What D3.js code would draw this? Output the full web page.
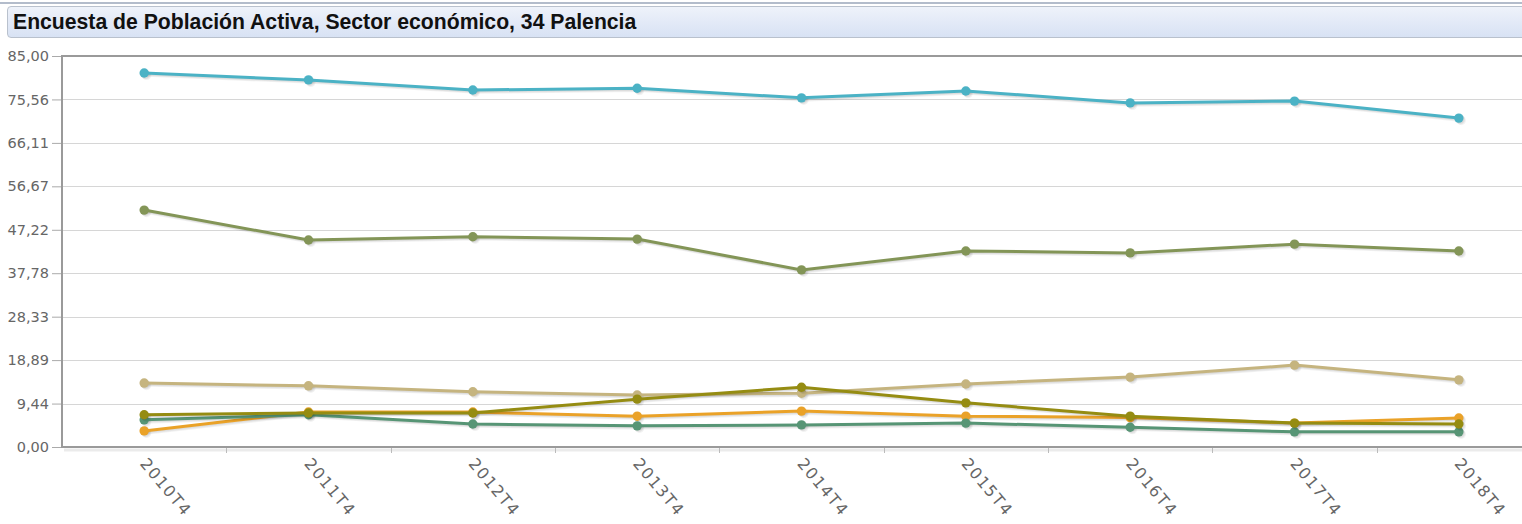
<!DOCTYPE html>
<html>
<head>
<meta charset="utf-8">
<script src="https://cdn.jsdelivr.net/npm/d3@7"></script>
<style>
  body { margin: 0; background: #fff; overflow: hidden; }
  #topline { position: absolute; left: 0; top: 2px; width: 1522px; height: 2px; background: #b3bccb; }
  #title {
    position: absolute; left: 7px; top: 6px; width: 1530px; height: 32px;
    border: 1px solid #b9c1cd; border-radius: 4px;
    background: linear-gradient(#eef2fa, #d8e2f4);
    font-family: "Liberation Sans", Arial, sans-serif; font-weight: bold; font-size: 21.2px;
    line-height: 30px; padding-left: 5px; color: #111; box-sizing: border-box;
  }
  svg { position: absolute; left: 0; top: 0; }
</style>
</head>
<body>
<div id="topline"></div>
<div id="title">Encuesta de Población Activa, Sector económico, 34 Palencia</div>
<svg id="chart" width="1522" height="524"></svg>
<script>
// categories and values (percent)
const categories = ['2010T4', '2011T4', '2012T4', '2013T4', '2014T4', '2015T4', '2016T4', '2017T4', '2018T4'];
const yTicks = [0, 9.44, 18.89, 28.33, 37.78, 47.22, 56.67, 66.11, 75.56, 85.00];

const serie1 = [81.3, 79.8, 77.6, 78.0, 75.9, 77.4, 74.8, 75.2, 71.5];
const serie2 = [3.5, 7.6, 7.6, 6.7, 7.8, 6.7, 6.4, 5.2, 6.3];
const serie3 = [13.9, 13.3, 12.0, 11.3, 11.7, 13.7, 15.2, 17.8, 14.6];
const serie4 = [5.9, 7.0, 5.0, 4.6, 4.8, 5.2, 4.3, 3.3, 3.3];
const serie5 = [51.5, 45.0, 45.7, 45.2, 38.5, 42.6, 42.2, 44.1, 42.6];
const serie6 = [7.0, 7.4, 7.4, 10.4, 13.0, 9.6, 6.7, 5.2, 5.0];

const series = [serie1, serie2, serie3, serie4, serie5, serie6];
const colors = ['#4bb2c5', '#EAA228', '#c5b47f', '#579575', '#839557', '#958c12'];

const svg = d3.select('#chart');
const padL = 62, padT = 56, padB = 447, padR = 1541;

const x = d3.scaleBand().domain(categories).range([padL, padR]);
const y = d3.scaleLinear().domain([0, 85]).range([padB, padT]);

const fmt = (v) => v.toFixed(2).replace('.', ',');

// grid lines
svg.append('g').selectAll('line')
    .data(yTicks.slice(1, -1))
  .enter().append('line')
    .attr('x1', padL).attr('x2', padR)
    .attr('y1', (d) => Math.round(y(d)) + 0.5).attr('y2', (d) => Math.round(y(d)) + 0.5)
    .attr('stroke', '#d6d6d6').attr('stroke-width', 1);

// border shadow
svg.append('line')
    .attr('x1', padL + 2).attr('x2', padR).attr('y1', padB + 3).attr('y2', padB + 3)
    .attr('stroke', '#000').attr('stroke-opacity', 0.08).attr('stroke-width', 3);

// border
svg.append('rect')
    .attr('x', padL).attr('y', padT).attr('width', padR - padL + 10).attr('height', padB - padT)
    .attr('fill', 'none').attr('stroke', '#9a9a9a').attr('stroke-width', 2);

// y axis
const yAxis = d3.axisLeft(y).tickValues(yTicks).tickFormat(fmt).tickSize(9).tickPadding(3);
const gy = svg.append('g').attr('transform', `translate(${padL - 1},0)`).call(yAxis);
gy.select('.domain').remove();
gy.selectAll('line').attr('stroke', '#aaa');
gy.selectAll('text').attr('fill', '#666').style('font-family', '"DejaVu Sans", Verdana, sans-serif').style('font-size', '14.5px');

// x axis ticks between categories
svg.append('g').selectAll('line')
    .data(categories.slice(1))
  .enter().append('line')
    .attr('x1', (d) => Math.round(x(d)) + 0.5).attr('x2', (d) => Math.round(x(d)) + 0.5)
    .attr('y1', padB + 1).attr('y2', padB + 6)
    .attr('stroke', '#bbb');

svg.append('g').selectAll('text')
    .data(categories)
  .enter().append('text')
    .attr('transform', (d) => `translate(${x(d) + x.bandwidth() / 2 - 5},${padB + 17}) rotate(50)`)
    .attr('fill', '#666')
    .style('font-family', '"DejaVu Sans", Verdana, sans-serif').style('font-size', '16px')
    .style('letter-spacing', '1.5px')
    .text((d) => d);

const line = d3.line()
    .x((d, i) => x(categories[i]) + x.bandwidth() / 2)
    .y((d) => y(d));

series.forEach((s, k) => {
  const g = svg.append('g');
  // shadows
  [1, 2, 3].forEach((o) => {
    g.append('path').attr('d', line(s)).attr('transform', `translate(${o * 0.8},${o * 0.8})`)
      .attr('fill', 'none').attr('stroke', '#000').attr('stroke-opacity', 0.05).attr('stroke-width', 2.8);
    g.selectAll(null).data(s).enter().append('circle')
      .attr('cx', (d, i) => x(categories[i]) + x.bandwidth() / 2 + o * 0.8)
      .attr('cy', (d) => y(d) + o * 0.8)
      .attr('r', 4.7).attr('fill', '#000').attr('fill-opacity', 0.05);
  });
  g.append('path').attr('d', line(s))
    .attr('fill', 'none').attr('stroke', colors[k]).attr('stroke-width', 3);
  g.selectAll('circle.pt').data(s).enter().append('circle')
    .attr('class', 'pt')
    .attr('cx', (d, i) => x(categories[i]) + x.bandwidth() / 2)
    .attr('cy', (d) => y(d))
    .attr('r', 4.7).attr('fill', colors[k]);
});
</script>
</body>
</html>
